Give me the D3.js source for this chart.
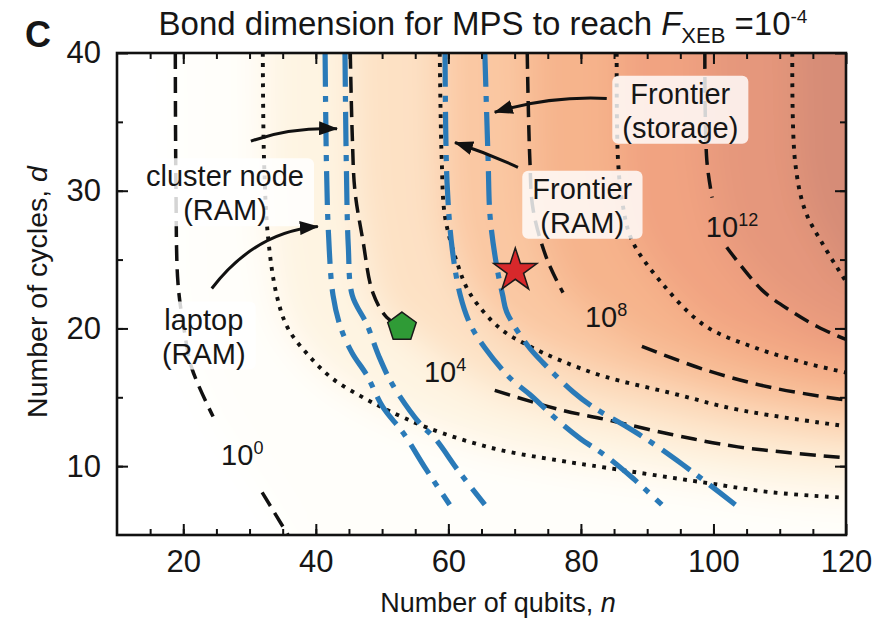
<!DOCTYPE html>
<html lang="en">
<head>
<meta charset="utf-8">
<script src="https://cdn.jsdelivr.net/npm/d3@7"></script>
<style>
  body { margin: 0; background: #fff; }
  svg text { font-family: "Liberation Sans", Arial, Helvetica, sans-serif; fill: #161616; }
  .dashed { fill: none; stroke: #111; stroke-width: 3.5; stroke-dasharray: 16 8; }
  .dotted { fill: none; stroke: #111; stroke-width: 3.9; stroke-dasharray: 3.8 6.4; }
  .memory { fill: none; stroke: #2a7ab8; stroke-width: 5.2; stroke-dasharray: 34 9 6 10; }
  .arrow { fill: none; stroke: #111; stroke-width: 3; }
</style>
</head>
<body>
<div id="my_dataviz"></div>
<script>
// values, every point is [n qubits, d cycles]

// contour levels, log10 of the bond dimension
var levels = [0, 2, 4, 6, 8, 10, 12, 14];
var chi0  = [[18.8,40],[18.9,30],[19.2,23.3],[20.1,20],[21.3,17.1],[24.5,13.6],[28.2,10.8],[31.9,8.1],[35.8,5]];
var chi2  = [[32,40],[32.2,32],[32.8,26.6],[34.1,22.4],[35.8,20],[38.8,18.1],[42.4,16.4],[46.7,15.1],[50.7,14.1],[56.8,12.8],[66.7,11.3],[76.8,10.4],[83.6,9.9],[98.7,8.8],[108.8,8.1],[120,7.7]];
var chi4  = [[45.2,40],[45.5,34],[45.9,30],[47.1,26.4],[48.6,22.6],[50.7,20.8],[53,20.1],[60,17.4],[67,15.5],[76.8,14.1],[83.6,13.4],[93.7,12.3],[103.7,11.4],[120,10.6]];
var chi6  = [[58.7,40],[59,32.2],[59.5,28.1],[61.3,24.8],[63.3,22.5],[67.8,20],[71.9,18.8],[76.8,17.7],[83.6,16.5],[93.7,15.3],[103.7,14.1],[120,12.9]];
var chi8  = [[71.9,40],[72.3,32.2],[72.8,28.6],[74.9,25],[77.3,22.6],[83.3,20.5],[89.2,18.7],[98.7,17],[108.8,15.7],[120,14.8]];
var chi10 = [[85.4,40],[85.6,32.2],[86.3,29],[87.7,26.4],[92.2,23.3],[98.7,20.2],[106.3,18.6],[113.8,17.5],[120,16.8]];
var chi12 = [[98.7,40],[99,32.2],[99.8,29.5],[100.8,27.6],[102,25.9],[107.3,22.8],[111.9,21.2],[115.8,20.1],[120,19.2]];
var chi14 = [[111.9,40],[112.3,32.2],[113.8,28.6],[116.4,26.2],[120,23.4]];
var contourLines = [chi0, chi2, chi4, chi6, chi8, chi10, chi12, chi14];

// in-line labels of the contours and the n-range left open for them
var labelLevels = [0, 4, 8, 12];
var labelPos = [[28.9,10.8],[59.5,16.8],[83.8,20.8],[102.8,27.4]];
var labelGap = [[24.5,31.9],[53,67],[77.3,89.2],[99.8,102]];

// memory limits (blue dash-dot)
var laptopRAM = [[41.4,40],[41.6,32],[41.9,27],[42.6,22.4],[43.8,20],[45.5,18.2],[47.7,16.6],[50.1,14.3],[53.2,12.4],[56.6,9.8],[60.2,7.2]];
var clusterRAM = [[44.4,40],[44.6,32],[44.9,26],[45.5,22.4],[47.7,20.3],[49.5,18],[51.6,15.9],[55.7,13.1],[58,12],[61.6,9.6],[65.5,7.2]];
var frontierRAM = [[59.5,40],[59.8,30.6],[60.6,25.7],[61.8,22.4],[63.3,20.3],[65.5,18.6],[69.3,16.4],[72.3,15.2],[76.8,13.2],[79.9,12],[83.6,10.8],[87.9,9.1],[92.2,7.2]];
var frontierStorage = [[65.5,40],[66,32.2],[66.3,28.1],[67.3,24.5],[68.2,22.4],[68.8,21.2],[71.9,18.8],[74.3,17.5],[78.8,15.4],[81.8,14.3],[87.1,12.8],[90.7,11.7],[95.4,10.1],[99,8.8],[103.3,7.2]];
var memoryLines = [laptopRAM, clusterRAM, frontierRAM, frontierStorage];

// markers
var pentagonPoint = [53, 20.1];
var starPoint = [70.1, 24.2];

// annotations: text, box centre, arrow start / bend / tip
var noteText = [["cluster node","(RAM)"],["laptop","(RAM)"],["Frontier","(RAM)"],["Frontier","(storage)"]];
var noteAt = [[26.3,30.1],[23.1,19.7],[80.2,29.2],[95,36.1]];
var arrowFrom = [[30.2,33.6],[24.3,22.9],[70.5,31.7],[83.9,36.7]];
var arrowBend = [[36.1,34.6],[30.8,27],[66,32.7],[75.3,36.9]];
var arrowTo = [[43.2,34.5],[40.3,27.4],[61,33.5],[67,35.7]];

// axes
var xMajor = [20, 40, 60, 80, 100, 120];
var yMajor = [10, 20, 30, 40];

var margin = {top: 53, right: 41, bottom: 86, left: 117},
    width = 887 - margin.left - margin.right,
    height = 621 - margin.top - margin.bottom;

var svg = d3.select("#my_dataviz")
    .append("svg")
    .attr("width", 887)
    .attr("height", 621);

var x = d3.scaleLinear().domain([10, 120]).range([0, width]);
var y = d3.scaleLinear().domain([5, 40]).range([height, 0]);

// background colour follows log10(chi)
var shade = d3.scaleLinear()
    .domain([-1, 1, 3, 5, 7, 9, 11, 13, 15])
    .range(["#ffffff", "#fffefa", "#fef4e2", "#fde1c4", "#fac7a2", "#f6b48c", "#f1a381", "#e5977c", "#d68c77"]);

var defs = svg.append("defs");
defs.append("clipPath").attr("id", "plotClip")
    .append("rect").attr("width", width).attr("height", height);
defs.append("filter").attr("id", "soften")
    .attr("filterUnits", "userSpaceOnUse")
    .attr("x", -140).attr("y", -140).attr("width", width + 280).attr("height", height + 280)
    .append("feGaussianBlur").attr("stdDeviation", 18);
defs.append("marker").attr("id", "head")
    .attr("viewBox", "0 0 19 14")
    .attr("refX", 18).attr("refY", 7)
    .attr("markerWidth", 19).attr("markerHeight", 14)
    .attr("markerUnits", "userSpaceOnUse")
    .attr("orient", "auto")
    .append("path").attr("d", "M0,0 L19,7 L0,14 Z").attr("fill", "#111");

var plot = svg.append("g")
    .attr("transform", "translate(" + margin.left + "," + margin.top + ")");

// filled region above every contour, blurred into a smooth field
var ext = 90;
function bandPath(pts) {
    var p = pts.map(function (d) { return [x(d[0]), y(d[1])]; });
    var first = p[0], last = p[p.length - 1];
    var poly = [[first[0], -ext]].concat(p);
    if (pts[pts.length - 1][1] <= 5.01) {
        poly.push([last[0], height + ext]);
        poly.push([width + ext, height + ext]);
    } else {
        poly.push([width + ext, last[1]]);
    }
    poly.push([width + ext, -ext]);
    return d3.line()(poly) + "Z";
}

var bg = plot.append("g").attr("clip-path", "url(#plotClip)");
var bands = bg.append("g").attr("filter", "url(#soften)");
bands.append("rect")
    .attr("x", -ext).attr("y", -ext)
    .attr("width", width + 2 * ext).attr("height", height + 2 * ext)
    .attr("fill", shade(-1));
bands.selectAll(".band")
    .data(contourLines)
    .enter()
    .append("path")
    .attr("class", "band")
    .attr("d", bandPath)
    .attr("fill", function (d, i) { return shade(levels[i] + 1); });

var curve = d3.line()
    .x(function (d) { return x(d[0]); })
    .y(function (d) { return y(d[1]); })
    .curve(d3.curveCatmullRom.alpha(0.5));

var lines = plot.append("g").attr("clip-path", "url(#plotClip)");

// contour lines, dashed for 10^0,10^4,... and dotted in between
contourLines.forEach(function (pts, i) {
    var k = labelLevels.indexOf(levels[i]);
    var segs = k < 0 ? [pts] : [
        pts.filter(function (p) { return p[0] <= labelGap[k][0]; }),
        pts.filter(function (p) { return p[0] >= labelGap[k][1]; })
    ];
    segs.forEach(function (seg) {
        lines.append("path")
            .attr("class", levels[i] % 4 === 0 ? "dashed" : "dotted")
            .attr("d", curve(seg));
    });
});

lines.selectAll(".memory")
    .data(memoryLines)
    .enter()
    .append("path")
    .attr("class", "memory")
    .attr("d", curve);

// contour labels
labelLevels.forEach(function (lv, k) {
    var t = plot.append("text")
        .attr("x", x(labelPos[k][0]))
        .attr("y", y(labelPos[k][1]) + 10)
        .attr("text-anchor", "middle")
        .style("font-size", "29px")
        .text("10");
    t.append("tspan").attr("dy", -11).style("font-size", "18px").text(lv);
});

// annotation boxes and text
noteText.forEach(function (lns, i) {
    var cx = x(noteAt[i][0]), cy = y(noteAt[i][1]);
    var box = plot.append("rect");
    var t = plot.append("text")
        .attr("text-anchor", "middle")
        .style("font-size", "29px");
    t.append("tspan").attr("x", cx).attr("y", cy - 3).text(lns[0]);
    t.append("tspan").attr("x", cx).attr("y", cy + 31).text(lns[1]);
    var bb = t.node().getBBox();
    box.attr("x", bb.x - 10).attr("y", bb.y - 2)
        .attr("width", bb.width + 20).attr("height", bb.height + 2)
        .attr("rx", 6)
        .attr("fill", "#fff")
        .attr("fill-opacity", 0.82);
});

// arrows
arrowFrom.forEach(function (a, i) {
    var path = d3.path();
    path.moveTo(x(a[0]), y(a[1]));
    path.quadraticCurveTo(x(arrowBend[i][0]), y(arrowBend[i][1]), x(arrowTo[i][0]), y(arrowTo[i][1]));
    plot.append("path")
        .attr("class", "arrow")
        .attr("d", path.toString())
        .attr("marker-end", "url(#head)");
});

// markers
var pentR = 15;
var pent = d3.range(5).map(function (k) {
    var a = -Math.PI / 2 + k * 2 * Math.PI / 5;
    return [pentR * Math.cos(a), pentR * Math.sin(a)];
});
plot.append("path")
    .attr("d", d3.line()(pent) + "Z")
    .attr("transform", "translate(" + x(pentagonPoint[0]) + "," + y(pentagonPoint[1]) + ")")
    .attr("fill", "#2f9b36")
    .attr("stroke", "#1a1a1a")
    .attr("stroke-width", 1.5);

plot.append("path")
    .attr("d", d3.symbol(d3.symbolStar, 580)())
    .attr("transform", "translate(" + x(starPoint[0]) + "," + y(starPoint[1]) + ")")
    .attr("fill", "#d7282b")
    .attr("stroke", "#1a1a1a")
    .attr("stroke-width", 1.5);

// axes with inward ticks
function styleAxis(g) {
    g.select(".domain").remove();
    g.selectAll("line").attr("stroke", "#111").attr("stroke-width", 2);
    g.selectAll("text").style("font-size", "31px").attr("fill", "#161616")
        .attr("font-family", null);
}
var xMinor = d3.range(15, 120, 5), yMinor = d3.range(10, 40, 5);

plot.append("g").attr("transform", "translate(0," + height + ")")
    .call(d3.axisBottom(x).tickValues(xMinor).tickSize(-6).tickFormat("")).call(styleAxis);
plot.append("g").attr("transform", "translate(0," + height + ")")
    .call(d3.axisBottom(x).tickValues(xMajor).tickSize(-11).tickPadding(15)).call(styleAxis);
plot.append("g")
    .call(d3.axisTop(x).tickValues(xMinor).tickSize(-6).tickFormat("")).call(styleAxis);
plot.append("g")
    .call(d3.axisTop(x).tickValues(xMajor).tickSize(-11).tickFormat("")).call(styleAxis);
plot.append("g")
    .call(d3.axisLeft(y).tickValues(yMinor).tickSize(-6).tickFormat("")).call(styleAxis);
plot.append("g")
    .call(d3.axisLeft(y).tickValues(yMajor).tickSize(-11).tickPadding(16)).call(styleAxis);
plot.append("g").attr("transform", "translate(" + width + ",0)")
    .call(d3.axisRight(y).tickValues(yMinor).tickSize(-6).tickFormat("")).call(styleAxis);
plot.append("g").attr("transform", "translate(" + width + ",0)")
    .call(d3.axisRight(y).tickValues(yMajor).tickSize(-11).tickFormat("")).call(styleAxis);

plot.append("rect")
    .attr("width", width).attr("height", height)
    .attr("fill", "none").attr("stroke", "#111").attr("stroke-width", 2.6);

// axis titles
var xl = svg.append("text")
    .attr("x", 498).attr("y", 612)
    .attr("text-anchor", "middle")
    .style("font-size", "27px")
    .text("Number of qubits, ");
xl.append("tspan").style("font-style", "italic").text("n");

var yl = svg.append("text")
    .attr("transform", "translate(47,292) rotate(-90)")
    .attr("text-anchor", "middle")
    .style("font-size", "28.5px")
    .text("Number of cycles, ");
yl.append("tspan").style("font-style", "italic").text("d");

// title
var title = svg.append("text")
    .attr("x", 483).attr("y", 35)
    .attr("text-anchor", "middle")
    .style("font-size", "33px")
    .text("Bond dimension for MPS to reach ");
title.append("tspan").style("font-style", "italic").text("F");
title.append("tspan").attr("dy", 8).style("font-size", "22px").text("XEB");
title.append("tspan").attr("dy", -8).text(" =10");
title.append("tspan").attr("dy", -12).style("font-size", "19px").text("-4");

svg.append("text")
    .attr("x", 25).attr("y", 47)
    .style("font-size", "36px")
    .style("font-weight", "bold")
    .text("C");
</script>
</body>
</html>
